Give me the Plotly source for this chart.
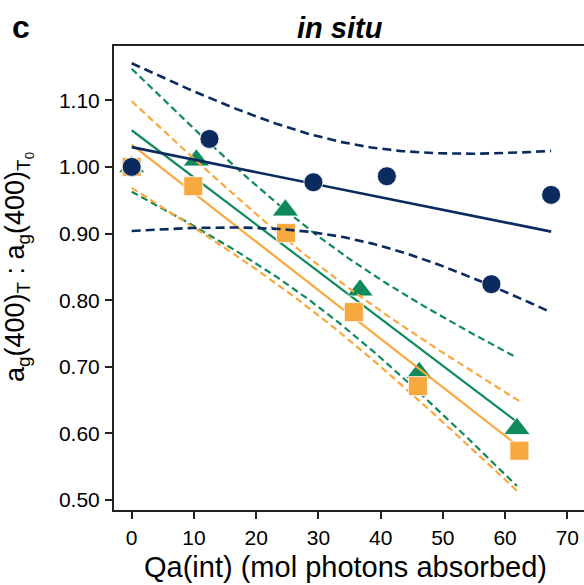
import numpy as np
import plotly.graph_objects as go

# ---- data ----
navy_x = [0.0, 12.5, 29.2, 41.0, 57.8, 67.4]
navy_y = [1.000, 1.042, 0.977, 0.986, 0.824, 0.958]

green_x = [0.0, 10.4, 24.7, 36.7, 46.2, 61.9]
green_y = [1.000, 1.010, 0.935, 0.815, 0.691, 0.607]

orange_x = [0.0, 9.9, 24.8, 35.7, 46.0, 62.3]
orange_y = [1.000, 0.971, 0.901, 0.782, 0.671, 0.574]

x_ticks = [0, 10, 20, 30, 40, 50, 60, 70]
y_ticks = [0.50, 0.60, 0.70, 0.80, 0.90, 1.00, 1.10]

NAVY = "#0b2b5f"
GREEN = "#0f8a5b"
ORANGE = "#f7a83e"
FONT = "Liberation Sans"


def fit_with_ci(x, y, t_crit=2.776):
    x = np.asarray(x, float)
    y = np.asarray(y, float)
    n = len(x)
    slope, intercept = np.polyfit(x, y, 1)
    resid = y - (intercept + slope * x)
    s = np.sqrt(np.sum(resid ** 2) / (n - 2))
    sxx = np.sum((x - x.mean()) ** 2)
    grid = np.linspace(0.0, x.max(), 120)
    pred = intercept + slope * grid
    hw = t_crit * s * np.sqrt(1.0 / n + (grid - x.mean()) ** 2 / sxx)
    return grid, pred, pred - hw, pred + hw


fig = go.Figure()


def add_group(x, y, color, symbol, msize, lw, dash):
    g, p, lo, hi = fit_with_ci(x, y)
    for band in (lo, hi):
        fig.add_trace(go.Scatter(x=g, y=band, mode="lines",
                                 line=dict(color=color, width=lw, dash=dash),
                                 hoverinfo="skip", showlegend=False))
    fig.add_trace(go.Scatter(x=g, y=p, mode="lines",
                             line=dict(color=color, width=lw),
                             hoverinfo="skip", showlegend=False))
    fig.add_trace(go.Scatter(x=x, y=y, mode="markers",
                             marker=dict(color=color, symbol=symbol, size=msize,
                                         line=dict(color="white", width=0.8)),
                             showlegend=False))


add_group(green_x, green_y, GREEN, "triangle-up", 23, 2.2, "7px,4px")
add_group(orange_x, orange_y, ORANGE, "square", 19, 2.2, "7px,4px")
add_group(navy_x, navy_y, NAVY, "circle", 19, 2.6, "9px,5px")

axis_common = dict(
    showgrid=False, zeroline=False, showline=True, linewidth=2,
    linecolor="#222222", ticks="outside", ticklen=7, tickwidth=2,
    tickcolor="#222222", tickfont=dict(family=FONT, size=21, color="black"),
)

fig.update_layout(
    width=584, height=585,
    margin=dict(l=114, r=0, t=46, b=75, pad=0),
    paper_bgcolor="white", plot_bgcolor="white",
    font=dict(family=FONT, color="black"),
    xaxis=dict(range=[-2.84, 72.68], tickvals=x_ticks, mirror=True,
               ticklabelstandoff=1, **axis_common),
    yaxis=dict(range=[0.485, 1.1815], tickvals=y_ticks, tickformat=".2f",
               ticklabelstandoff=1, **axis_common),
    annotations=[
        dict(text="<b>c</b>", x=-0.197, y=1.041, xref="paper", yref="paper",
             xanchor="center", yanchor="middle", showarrow=False,
             font=dict(family=FONT, size=32, color="black")),
        dict(text="<b><i>in situ</i></b>", x=0.481, y=1.039, xref="paper", yref="paper",
             xanchor="center", yanchor="middle", showarrow=False,
             font=dict(family=FONT, size=29, color="black")),
        dict(text="Qa(int) (mol photons absorbed)", x=0.4926, y=-0.123,
             xref="paper", yref="paper", xanchor="center", yanchor="middle",
             showarrow=False, font=dict(family=FONT, size=29, color="black")),
        dict(text="a<sub>g</sub>(400)<sub>T</sub> : a<sub>g</sub>(400)<sub>T<sub>0</sub></sub>",
             x=-0.203, y=0.5226, xref="paper", yref="paper", textangle=-90,
             xanchor="center", yanchor="middle", showarrow=False,
             font=dict(family=FONT, size=27, color="black")),
    ],
)

fig.write_html("out.html")
